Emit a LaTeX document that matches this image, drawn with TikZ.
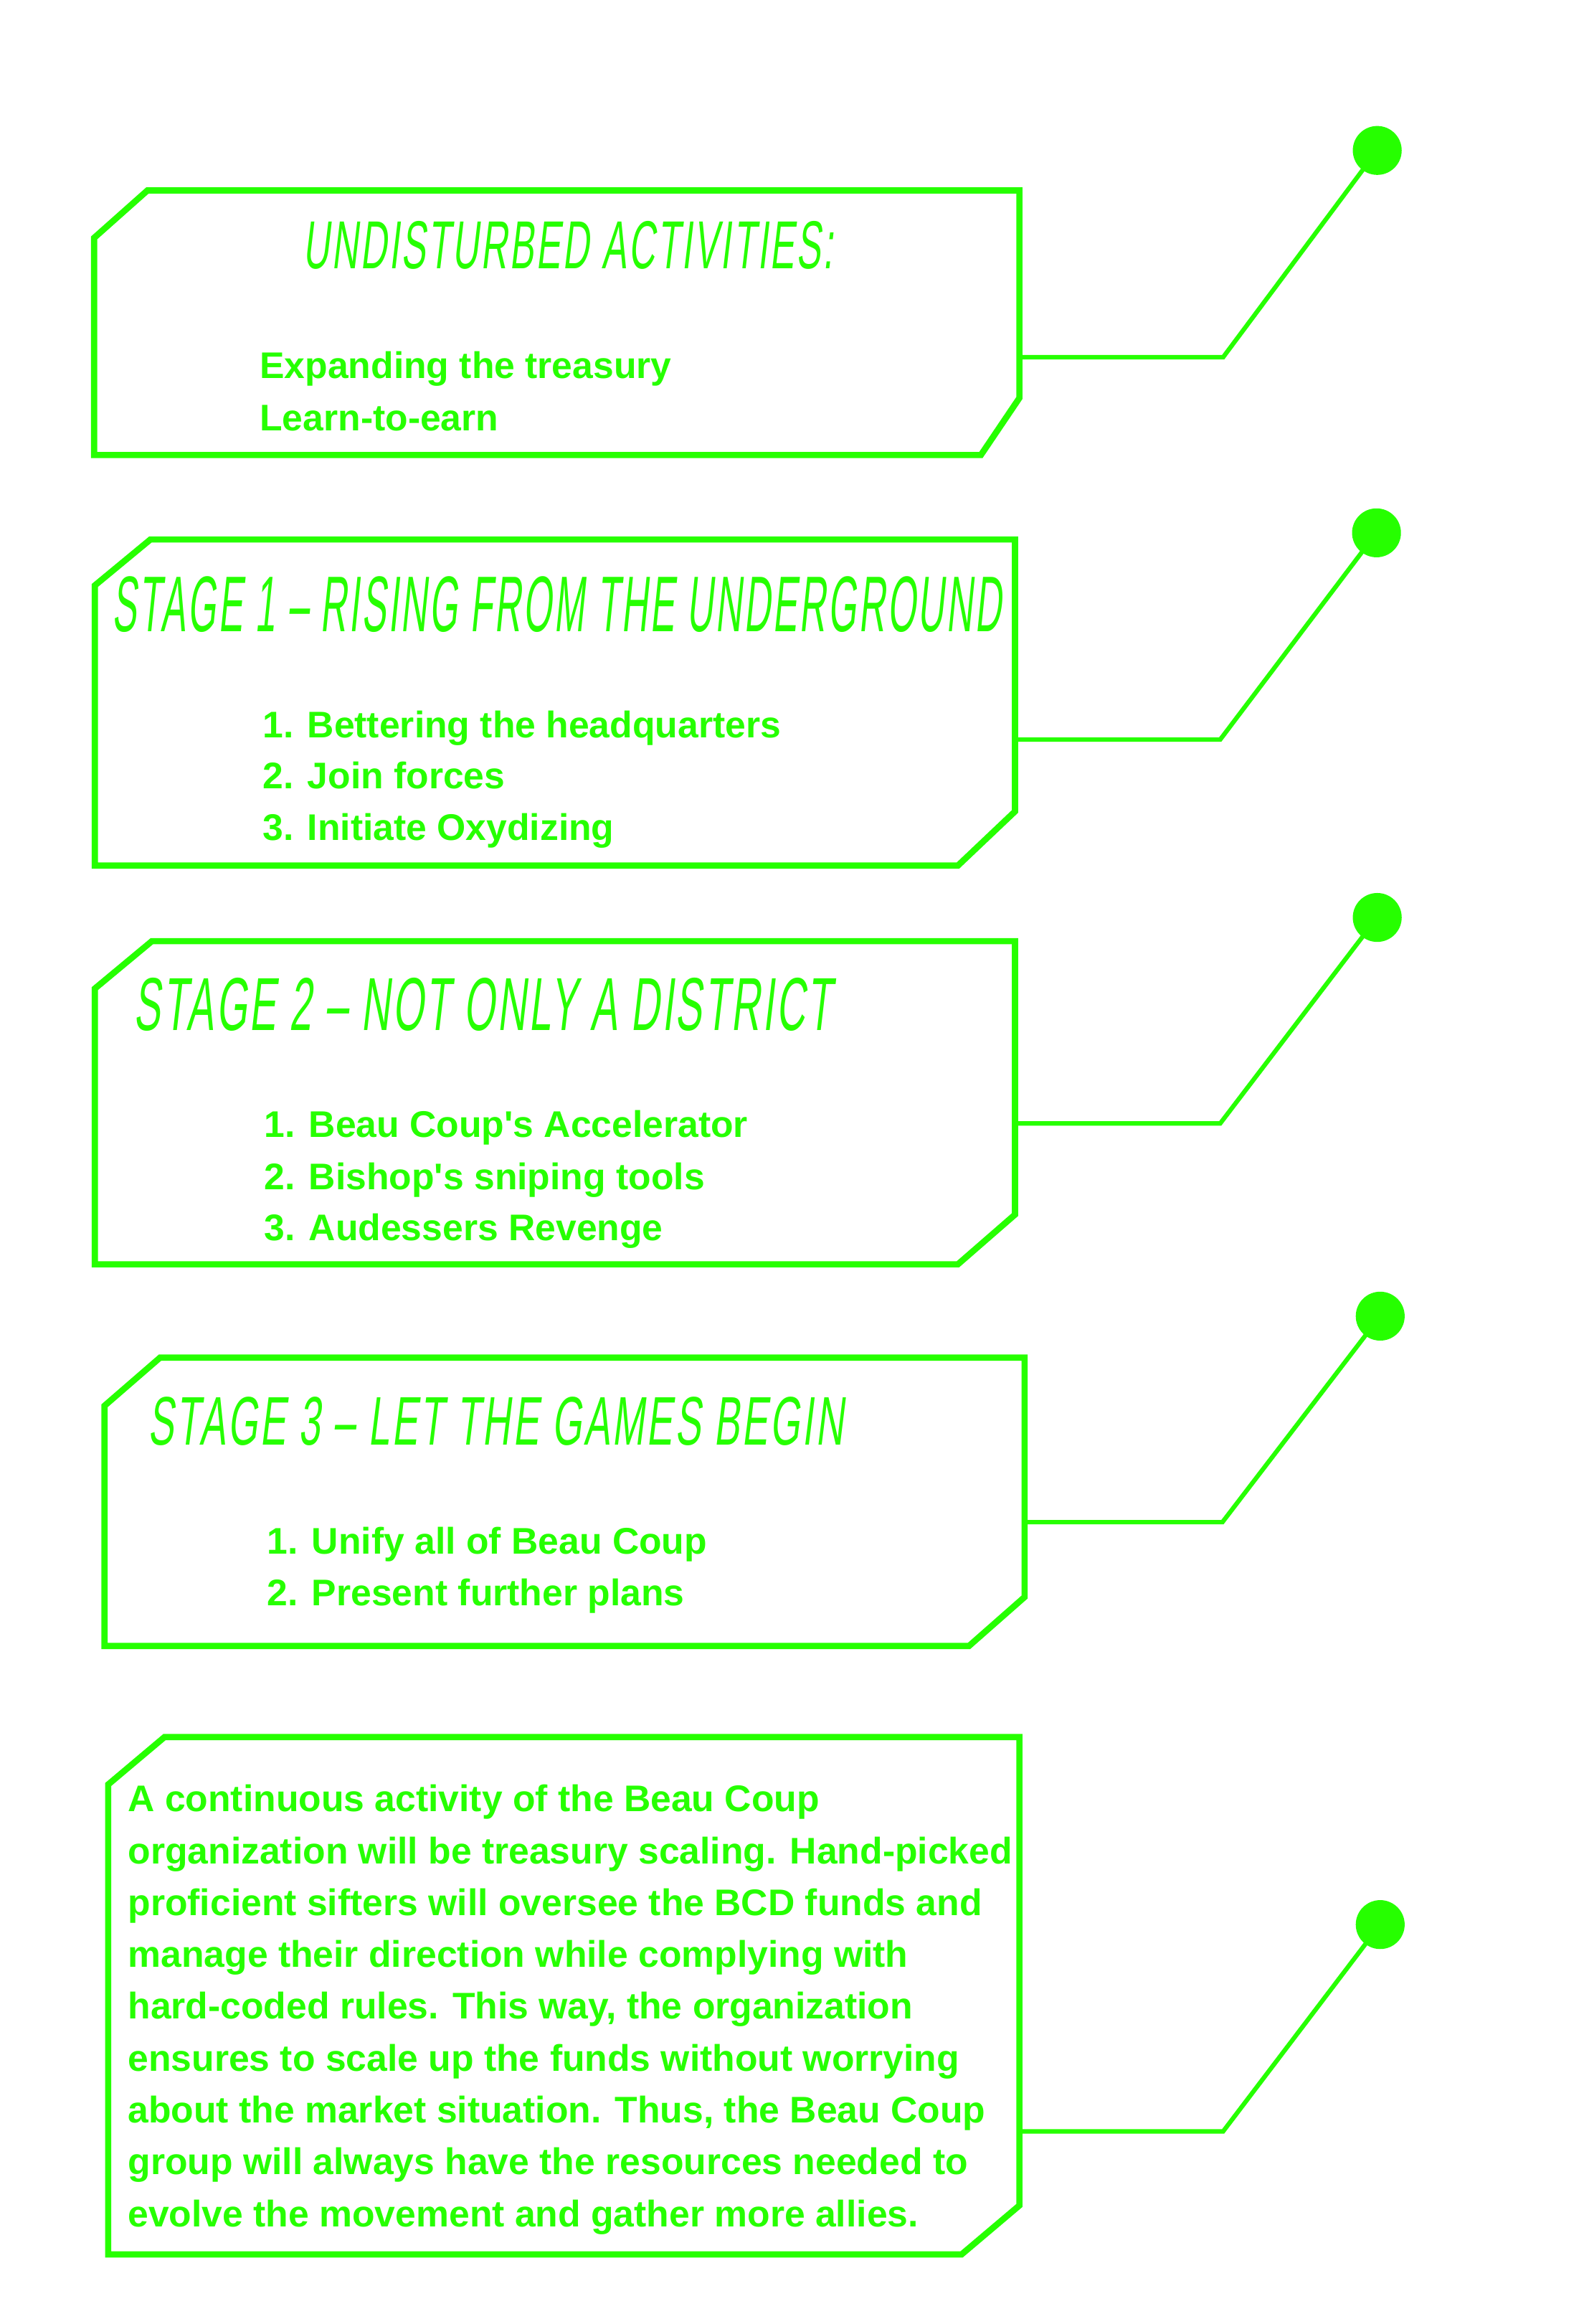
\documentclass[tikz,border=0pt]{standalone}
\usepackage{fontspec}
\usepackage{graphicx}
\setmainfont{Liberation Sans}[Ligatures=TeXOff]
\newfontfamily\titlefont[FakeSlant=0.22,LetterSpace=6]{Liberation Sans}
\definecolor{neon}{RGB}{38,255,0}
\begin{document}
\begin{tikzpicture}[x=0.5pt,y=-0.5pt,
  boxline/.style={draw=neon,line width=2.1pt,line join=miter},
  linkline/.style={draw=neon,line width=1.5pt},
  dotnode/.style={circle,fill=neon,inner sep=0pt,minimum size=16.5pt},
  body/.style={inner sep=0pt,anchor=base west,text=neon,font=\fontsize{12.5}{15}\selectfont\bfseries},
  title/.style={inner sep=0pt,anchor=south west,text=neon}]
\useasboundingbox (0,0) rectangle (1069,1568);

% ---------- box 1
\draw[boxline] (63.5,160.5) -- (99.5,128.5) -- (688,128.5) -- (688,268.5) -- (662,307) -- (63.5,307) -- cycle;
\node[title] (t1) at (204,182) {\resizebox{179pt}{16pt}{\titlefont UNDISTURBED ACTIVITIES:}};
\node[body] (a1) at (175,255.5) {Expanding the treasury};
\node[body] (a2) at (175,290.4) {Learn-to-earn};
\coordinate (s1) at (688,241);
\coordinate (e1) at (825.5,241);
\node[dotnode] (d1) at (929.5,101.5) {};
\draw[linkline] (s1) -- (e1) -- (d1.center);

% ---------- box 2
\draw[boxline] (64,395) -- (101.5,364) -- (685,364) -- (685,547.5) -- (646.5,584) -- (64,584) -- cycle;
\node[title] (t2) at (75.5,426.8) {\resizebox{300pt}{18.6pt}{\titlefont STAGE 1 – RISING FROM THE UNDERGROUND}};
\node[body] (b1) at (177,497.6) {1. Bettering the headquarters};
\node[body] (b2) at (177,532.3) {2. Join forces};
\node[body] (b3) at (177,567) {3. Initiate Oxydizing};
\coordinate (s2) at (685,499);
\coordinate (e2) at (823.5,499);
\node[dotnode] (d2) at (929,359.5) {};
\draw[linkline] (s2) -- (e2) -- (d2.center);

% ---------- box 3
\draw[boxline] (64,667) -- (102.5,635) -- (685,635) -- (685,819.5) -- (646.5,853) -- (64,853) -- cycle;
\node[title] (t3) at (90,696) {\resizebox{235.5pt}{17.7pt}{\titlefont STAGE 2 – NOT ONLY A DISTRICT}};
\node[body] (c1) at (178,767.5) {1. Beau Coup's Accelerator};
\node[body] (c2) at (178,802.5) {2. Bishop's sniping tools};
\node[body] (c3) at (178,837.2) {3. Audessers Revenge};
\coordinate (s3) at (685,758);
\coordinate (e3) at (823.5,758);
\node[dotnode] (d3) at (929.5,619) {};
\draw[linkline] (s3) -- (e3) -- (d3.center);

% ---------- box 4
\draw[boxline] (70.5,948.5) -- (108,916) -- (691.5,916) -- (691.5,1077.5) -- (654,1110.5) -- (70.5,1110.5) -- cycle;
\node[title] (t4) at (99.7,976) {\resizebox{234.5pt}{16.2pt}{\titlefont STAGE 3 – LET THE GAMES BEGIN}};
\node[body] (g1) at (180,1048.5) {1. Unify all of Beau Coup};
\node[body] (g2) at (180,1083.2) {2. Present further plans};
\coordinate (s4) at (691.5,1027);
\coordinate (e4) at (825,1027);
\node[dotnode] (d4) at (931.5,888) {};
\draw[linkline] (s4) -- (e4) -- (d4.center);

% ---------- box 5
\draw[boxline] (73,1204) -- (111,1172) -- (688,1172) -- (688,1488) -- (649,1521) -- (73,1521) -- cycle;
\node[body] (p1) at (86,1222.3) {A continuous activity of the Beau Coup};
\node[body] (p2) at (86,1257.3) {organization will be treasury scaling. Hand-picked};
\node[body] (p3) at (86,1292.3) {proficient sifters will oversee the BCD funds and};
\node[body] (p4) at (86,1327.3) {manage their direction while complying with};
\node[body] (p5) at (86,1362.3) {hard-coded rules. This way, the organization};
\node[body] (p6) at (86,1397.3) {ensures to scale up the funds without worrying};
\node[body] (p7) at (86,1432.3) {about the market situation. Thus, the Beau Coup};
\node[body] (p8) at (86,1467.3) {group will always have the resources needed to};
\node[body] (p9) at (86,1502.3) {evolve the movement and gather more allies.};
\coordinate (s5) at (688,1438);
\coordinate (e5) at (825.5,1438);
\node[dotnode] (d5) at (931.5,1298.5) {};
\draw[linkline] (s5) -- (e5) -- (d5.center);
\end{tikzpicture}
\end{document}
